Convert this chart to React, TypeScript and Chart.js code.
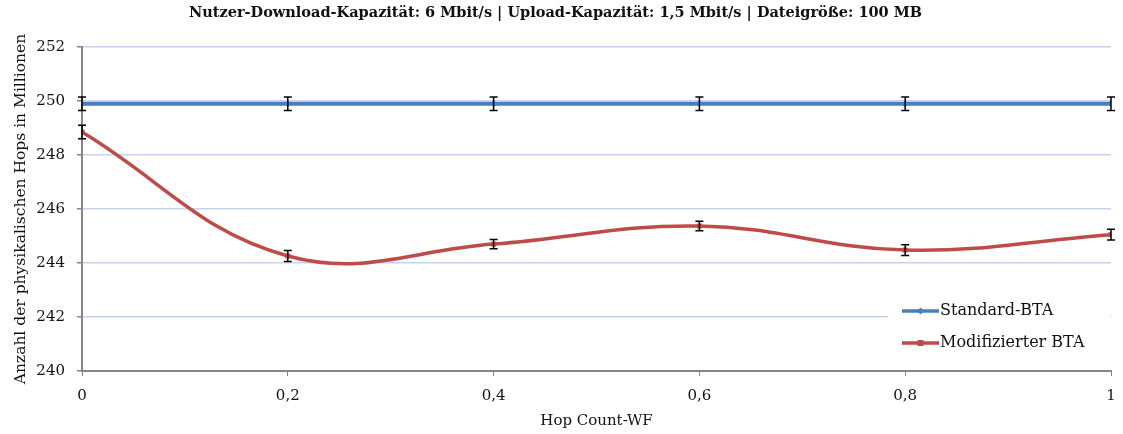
import React, { useEffect, useRef } from "react";
import { Chart, registerables } from "chart.js";

Chart.register(...registerables);

const xValues = [0, 0.2, 0.4, 0.6, 0.8, 1];
const standardValues = [249.9, 249.9, 249.9, 249.9, 249.9, 249.9];
const standardErrors = [0.25, 0.25, 0.25, 0.25, 0.25, 0.25];
const modifiedValues = [248.85, 244.26, 244.7, 245.37, 244.48, 245.05];
const modifiedErrors = [0.25, 0.2, 0.17, 0.18, 0.2, 0.2];
const seriesNames = ["Standard-BTA", "Modifizierter BTA"];
const titleText =
  "Nutzer-Download-Kapazität: 6 Mbit/s | Upload-Kapazität: 1,5 Mbit/s | Dateigröße: 100 MB";
const xTitle = "Hop Count-WF";
const yTitle = "Anzahl der physikalischen Hops in Millionen";

const BLUE = "#4a7ebb";
const RED = "#be4b48";
const AXIS = "#868686";
const GRID = "#c5d3ee";
const FONT = "'DejaVu Serif', 'Liberation Serif', serif";

const errorBarPlugin = {
  id: "errorBars",
  afterDatasetsDraw(chart: any) {
    const ctx = chart.ctx;
    const y = chart.scales.y;
    const x = chart.scales.x;
    const errs = [standardErrors, modifiedErrors];
    ctx.save();
    ctx.strokeStyle = "#000";
    ctx.lineWidth = 1.5;
    chart.data.datasets.forEach((ds: any, i: number) => {
      ds.data.forEach((p: any, j: number) => {
        const px = x.getPixelForValue(p.x);
        const top = y.getPixelForValue(p.y + errs[i][j]);
        const bot = y.getPixelForValue(p.y - errs[i][j]);
        ctx.beginPath();
        ctx.moveTo(px, top);
        ctx.lineTo(px, bot);
        ctx.moveTo(px - 4, top);
        ctx.lineTo(px + 4, top);
        ctx.moveTo(px - 4, bot);
        ctx.lineTo(px + 4, bot);
        ctx.stroke();
      });
    });
    ctx.restore();
  },
};

const legendPlugin = {
  id: "customLegend",
  afterDraw(chart: any) {
    const ctx = chart.ctx;
    ctx.save();
    ctx.fillStyle = "#fff";
    ctx.fillRect(888, 290, 222, 68);
    const items = [
      { color: BLUE, y: 311, shape: "diamond" },
      { color: RED, y: 343, shape: "square" },
    ];
    items.forEach((it, i) => {
      ctx.strokeStyle = it.color;
      ctx.lineWidth = 3.5;
      ctx.beginPath();
      ctx.moveTo(902, it.y);
      ctx.lineTo(939, it.y);
      ctx.stroke();
      ctx.fillStyle = it.color;
      if (it.shape === "square") {
        ctx.fillRect(917.5, it.y - 3, 6, 6);
      } else {
        ctx.beginPath();
        ctx.moveTo(920.5, it.y - 3.5);
        ctx.lineTo(924, it.y);
        ctx.lineTo(920.5, it.y + 3.5);
        ctx.lineTo(917, it.y);
        ctx.closePath();
        ctx.fill();
      }
      ctx.fillStyle = "#111";
      ctx.font = "16px " + FONT;
      ctx.textAlign = "left";
      ctx.textBaseline = "middle";
      ctx.fillText(seriesNames[i], 940, it.y);
    });
    ctx.restore();
  },
};

export default function App() {
  const ref = useRef<HTMLCanvasElement | null>(null);
  useEffect(() => {
    document.body.style.margin = "0";
    const canvas = ref.current;
    if (!canvas) return;
    const chart = new Chart(canvas, {
      type: "line",
      data: {
        datasets: [
          {
            label: seriesNames[0],
            data: xValues.map((x, i) => ({ x, y: standardValues[i] })),
            borderColor: BLUE,
            backgroundColor: BLUE,
            borderWidth: 4,
            pointStyle: "rectRot",
            pointRadius: 3.5,
            pointBorderWidth: 0,
            tension: 0,
          },
          {
            label: seriesNames[1],
            data: xValues.map((x, i) => ({ x, y: modifiedValues[i] })),
            borderColor: RED,
            backgroundColor: RED,
            borderWidth: 3.5,
            pointStyle: "rect",
            pointRadius: 3.5,
            pointBorderWidth: 0,
            tension: 0.4,
          },
        ],
      },
      options: {
        animation: false,
        responsive: false,
        maintainAspectRatio: false,
        layout: { padding: { left: 0, right: 12, top: 0, bottom: 0 } },
        plugins: {
          legend: { display: false },
          tooltip: { enabled: false },
          title: {
            display: true,
            text: titleText,
            color: "#111",
            font: { family: FONT, size: 14.5, weight: "bold" },
            padding: { top: 5, bottom: 24.6 },
          },
        },
        scales: {
          x: {
            type: "linear",
            min: 0,
            max: 1,
            afterFit(scale: any) {
              scale.height = 63;
              scale.paddingLeft = 0;
              scale.paddingRight = 0;
            },
            afterBuildTicks(scale: any) {
              scale.ticks = xValues.map((v) => ({ value: v }));
            },
            ticks: {
              color: "#111",
              font: { family: FONT, size: 15 },
              padding: 11,
              callback: (v: any) => String(v).replace(".", ","),
              maxRotation: 0,
            },
            grid: {
              drawOnChartArea: false,
              drawTicks: true,
              tickLength: 5,
              tickColor: AXIS,
            },
            border: { color: AXIS, width: 2 },
            title: {
              display: true,
              text: xTitle,
              color: "#111",
              font: { family: FONT, size: 15 },
              padding: { top: 2 },
            },
          },
          y: {
            min: 240,
            max: 252,
            afterFit(scale: any) {
              scale.width = 82;
              scale.paddingTop = 0;
              scale.paddingBottom = 0;
            },
            ticks: {
              stepSize: 2,
              color: "#111",
              font: { family: FONT, size: 15 },
              padding: 12,
            },
            grid: {
              color: GRID,
              lineWidth: 1.5,
              tickLength: 5,
              tickColor: AXIS,
            },
            border: { color: AXIS, width: 2 },
            title: {
              display: true,
              text: yTitle,
              color: "#111",
              font: { family: FONT, size: 15.5 },
              padding: { top: 12, bottom: 0 },
            },
          },
        },
      },
      plugins: [errorBarPlugin, legendPlugin],
    } as any);
    return () => chart.destroy();
  }, []);
  return (
    <div style={{ width: 1123, height: 434 }}>
      <canvas ref={ref} width={1123} height={434} style={{ display: "block" }} />
    </div>
  );
}
